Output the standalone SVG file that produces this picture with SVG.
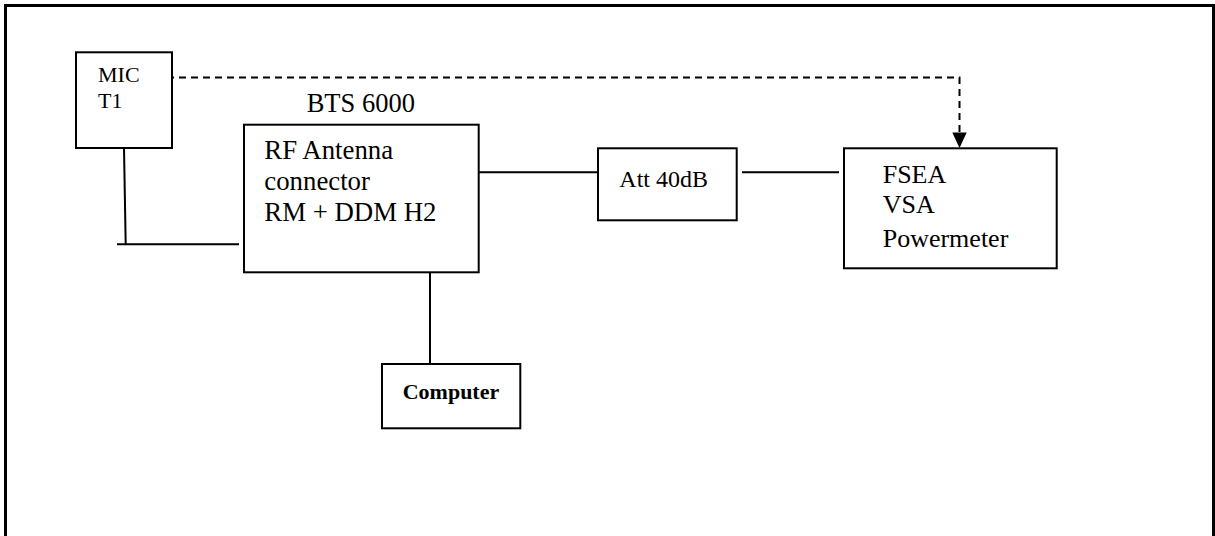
<svg xmlns="http://www.w3.org/2000/svg" width="1215" height="536" viewBox="0 0 1215 536">
<style>
.box{fill:#fff;stroke:#000;stroke-width:2}
.ln{fill:none;stroke:#000;stroke-width:2}
.dash{fill:none;stroke:#000;stroke-width:2;stroke-dasharray:7 5}
text{font-family:"Liberation Serif","Times New Roman",serif;fill:#000}
.b{font-weight:bold}
</style>
<defs>
<marker id="arr" markerWidth="10" markerHeight="10" refX="10" refY="5" orient="auto" markerUnits="userSpaceOnUse" viewBox="0 0 10 10">
<path d="M0,0 L10,5 L0,10 Z" fill="#000"/>
</marker>
</defs>
<rect x="0" y="0" width="1215" height="536" fill="#fff"/>
<rect x="5.5" y="5.5" width="1208" height="600" fill="none" stroke="#000" stroke-width="3"/>

<g id="connectors">
<polyline class="dash" points="167,77.5 959.5,77.5 959.5,133"/>
<path d="M952.3,132.5 L966.7,132.5 L959.5,148 Z" fill="#000"/>
<line class="ln" x1="124" y1="148" x2="125.7" y2="244.3"/>
<line class="ln" x1="117" y1="244.3" x2="239" y2="244.3"/>
<line class="ln" x1="478.5" y1="172.3" x2="598" y2="172.3"/>
<line class="ln" x1="742" y1="172.3" x2="839" y2="172.3"/>
<line class="ln" x1="430" y1="268" x2="430" y2="364"/>
</g>

<g id="mic">
<rect class="box" x="76" y="52.3" width="96" height="95.7"/>
<text x="98" y="82" font-size="22">MIC</text>
<text x="98" y="108.3" font-size="22">T1</text>
</g>

<g id="bts">
<text x="306.7" y="111.7" font-size="26.5">BTS 6000</text>
<rect class="box" x="244" y="124.7" width="234.7" height="147.6"/>
<text x="264.3" y="159.3" font-size="26.8">RF Antenna</text>
<text x="264.3" y="189.5" font-size="26.8">connector</text>
<text x="264.3" y="220.7" font-size="26.8">RM + DDM H2</text>
</g>

<g id="att">
<rect class="box" x="598" y="148.3" width="138.7" height="72"/>
<text x="619.3" y="187.3" font-size="24">Att 40dB</text>
</g>

<g id="fsea">
<rect class="box" x="844" y="148.3" width="212.7" height="120"/>
<text x="882.7" y="183.3" font-size="26">FSEA</text>
<text x="882.7" y="213.3" font-size="26">VSA</text>
<text x="882.7" y="246.7" font-size="26">Powermeter</text>
</g>

<g id="computer">
<rect class="box" x="382" y="364" width="138.3" height="64.3"/>
<text class="b" x="402.7" y="399" font-size="22">Computer</text>
</g>
</svg>
